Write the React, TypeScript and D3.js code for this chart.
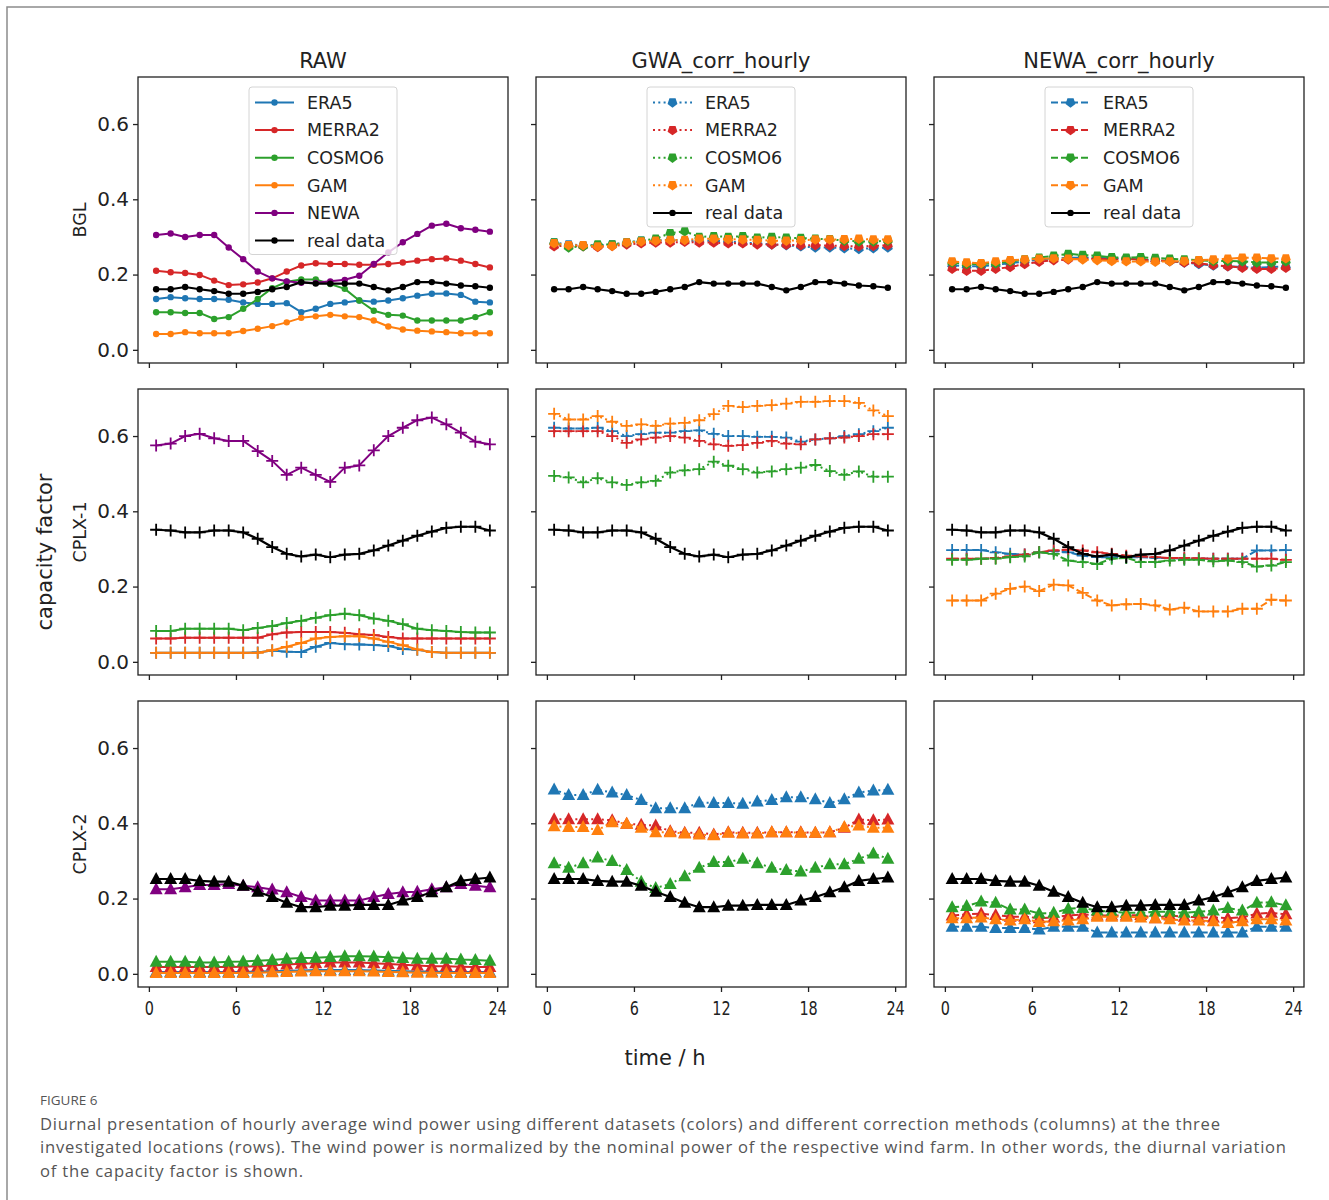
import React, { useEffect, useRef } from 'react';
import * as d3 from 'd3';

// hour of day (centre of each hourly bin)
const hours = [0.5, 1.5, 2.5, 3.5, 4.5, 5.5, 6.5, 7.5, 8.5, 9.5, 10.5, 11.5, 12.5, 13.5, 14.5, 15.5, 16.5, 17.5, 18.5, 19.5, 20.5, 21.5, 22.5, 23.5];

const seriesNames = ['ERA5', 'MERRA2', 'COSMO6', 'GAM', 'NEWA', 'real data'];
const seriesColors = ['#1f77b4', '#d62728', '#2ca02c', '#ff7f0e', '#800080', '#000000'];
const columnTitles = ['RAW', 'GWA_corr_hourly', 'NEWA_corr_hourly'];
const rowLabels = ['BGL', 'CPLX-1', 'CPLX-2'];
const yTicks = [0, 0.2, 0.4, 0.6];
const xTicks = [0, 6, 12, 18, 24];

// BGL
const bglReal = [0.161, 0.161, 0.167, 0.161, 0.156, 0.149, 0.149, 0.154, 0.161, 0.167, 0.180, 0.176, 0.176, 0.176, 0.176, 0.167, 0.158, 0.167, 0.180, 0.180, 0.176, 0.171, 0.169, 0.165];
const bglRawEra5 = [0.135, 0.140, 0.137, 0.135, 0.135, 0.133, 0.126, 0.122, 0.122, 0.124, 0.100, 0.109, 0.122, 0.126, 0.131, 0.128, 0.131, 0.137, 0.144, 0.149, 0.150, 0.146, 0.128, 0.126];
const bglRawMerra2 = [0.210, 0.206, 0.204, 0.199, 0.184, 0.172, 0.174, 0.179, 0.190, 0.208, 0.224, 0.230, 0.228, 0.228, 0.226, 0.226, 0.228, 0.232, 0.237, 0.241, 0.243, 0.237, 0.228, 0.219];
const bglRawCosmo6 = [0.100, 0.100, 0.098, 0.098, 0.082, 0.087, 0.109, 0.135, 0.164, 0.181, 0.187, 0.187, 0.175, 0.162, 0.131, 0.104, 0.093, 0.091, 0.078, 0.078, 0.078, 0.078, 0.087, 0.100];
const bglRawGam = [0.042, 0.042, 0.047, 0.044, 0.044, 0.044, 0.050, 0.056, 0.063, 0.073, 0.085, 0.089, 0.093, 0.089, 0.087, 0.078, 0.062, 0.054, 0.051, 0.049, 0.047, 0.044, 0.044, 0.044];
const bglRawNewa = [0.305, 0.309, 0.300, 0.305, 0.305, 0.272, 0.241, 0.208, 0.190, 0.182, 0.178, 0.178, 0.182, 0.186, 0.197, 0.228, 0.259, 0.286, 0.308, 0.330, 0.335, 0.323, 0.319, 0.314];
const bglGwaEra5 = [0.285, 0.280, 0.278, 0.278, 0.280, 0.285, 0.290, 0.290, 0.293, 0.290, 0.290, 0.290, 0.288, 0.285, 0.283, 0.280, 0.278, 0.275, 0.272, 0.272, 0.270, 0.268, 0.270, 0.272];
const bglGwaMerra2 = [0.275, 0.277, 0.275, 0.273, 0.276, 0.280, 0.283, 0.285, 0.285, 0.287, 0.285, 0.285, 0.283, 0.283, 0.280, 0.280, 0.279, 0.278, 0.278, 0.277, 0.276, 0.275, 0.276, 0.278];
const bglGwaCosmo6 = [0.285, 0.272, 0.275, 0.280, 0.280, 0.285, 0.290, 0.295, 0.310, 0.315, 0.300, 0.302, 0.300, 0.302, 0.298, 0.300, 0.298, 0.297, 0.295, 0.294, 0.290, 0.288, 0.288, 0.290];
const bglGwaGam = [0.283, 0.278, 0.278, 0.275, 0.276, 0.285, 0.288, 0.290, 0.292, 0.292, 0.295, 0.295, 0.294, 0.293, 0.292, 0.290, 0.290, 0.291, 0.293, 0.293, 0.294, 0.295, 0.293, 0.293];
const bglNewaEra5 = [0.225, 0.222, 0.222, 0.226, 0.230, 0.235, 0.240, 0.243, 0.245, 0.245, 0.244, 0.243, 0.242, 0.240, 0.238, 0.235, 0.232, 0.228, 0.224, 0.222, 0.220, 0.218, 0.220, 0.222];
const bglNewaMerra2 = [0.215, 0.210, 0.210, 0.215, 0.220, 0.228, 0.234, 0.238, 0.240, 0.242, 0.242, 0.240, 0.242, 0.240, 0.238, 0.236, 0.232, 0.230, 0.225, 0.222, 0.218, 0.215, 0.215, 0.218];
const bglNewaCosmo6 = [0.232, 0.228, 0.228, 0.230, 0.235, 0.240, 0.245, 0.250, 0.255, 0.252, 0.250, 0.246, 0.245, 0.246, 0.244, 0.242, 0.240, 0.238, 0.236, 0.236, 0.235, 0.232, 0.232, 0.235];
const bglNewaGam = [0.235, 0.232, 0.230, 0.235, 0.238, 0.240, 0.242, 0.243, 0.242, 0.240, 0.238, 0.236, 0.235, 0.235, 0.234, 0.235, 0.236, 0.238, 0.240, 0.242, 0.245, 0.245, 0.243, 0.243];

// CPLX-1
const c1Real = [0.351, 0.349, 0.344, 0.344, 0.349, 0.349, 0.344, 0.327, 0.305, 0.287, 0.280, 0.285, 0.278, 0.285, 0.287, 0.296, 0.309, 0.322, 0.335, 0.346, 0.356, 0.359, 0.359, 0.349];
const c1RawEra5 = [0.024, 0.024, 0.024, 0.024, 0.024, 0.024, 0.024, 0.025, 0.030, 0.027, 0.026, 0.040, 0.050, 0.047, 0.046, 0.045, 0.042, 0.034, 0.032, 0.026, 0.024, 0.024, 0.024, 0.024];
const c1RawMerra2 = [0.062, 0.062, 0.064, 0.064, 0.064, 0.064, 0.064, 0.064, 0.073, 0.078, 0.079, 0.079, 0.079, 0.077, 0.073, 0.071, 0.066, 0.062, 0.062, 0.062, 0.062, 0.062, 0.062, 0.062];
const c1RawCosmo6 = [0.082, 0.082, 0.088, 0.088, 0.088, 0.088, 0.084, 0.090, 0.095, 0.103, 0.109, 0.117, 0.124, 0.128, 0.124, 0.115, 0.109, 0.100, 0.088, 0.084, 0.082, 0.079, 0.078, 0.078];
const c1RawGam = [0.024, 0.024, 0.024, 0.024, 0.024, 0.024, 0.024, 0.024, 0.031, 0.040, 0.050, 0.062, 0.066, 0.068, 0.068, 0.062, 0.053, 0.044, 0.033, 0.026, 0.024, 0.024, 0.024, 0.024];
const c1RawNewa = [0.575, 0.580, 0.600, 0.606, 0.594, 0.587, 0.587, 0.560, 0.534, 0.497, 0.516, 0.497, 0.478, 0.516, 0.522, 0.562, 0.600, 0.622, 0.642, 0.649, 0.631, 0.609, 0.585, 0.578];
const c1GwaEra5 = [0.622, 0.620, 0.620, 0.622, 0.613, 0.600, 0.605, 0.609, 0.609, 0.613, 0.615, 0.606, 0.600, 0.600, 0.598, 0.598, 0.596, 0.585, 0.591, 0.594, 0.600, 0.605, 0.613, 0.622];
const c1GwaMerra2 = [0.613, 0.613, 0.613, 0.613, 0.600, 0.582, 0.591, 0.596, 0.600, 0.596, 0.587, 0.578, 0.574, 0.576, 0.582, 0.587, 0.580, 0.578, 0.591, 0.594, 0.596, 0.600, 0.605, 0.605];
const c1GwaCosmo6 = [0.494, 0.490, 0.477, 0.488, 0.477, 0.470, 0.477, 0.481, 0.503, 0.509, 0.512, 0.532, 0.521, 0.512, 0.503, 0.506, 0.512, 0.516, 0.523, 0.507, 0.497, 0.506, 0.492, 0.492];
const c1GwaGam = [0.659, 0.644, 0.644, 0.653, 0.638, 0.627, 0.631, 0.627, 0.633, 0.635, 0.642, 0.658, 0.680, 0.677, 0.680, 0.682, 0.686, 0.691, 0.691, 0.693, 0.693, 0.688, 0.668, 0.653];
const c1NewaEra5 = [0.297, 0.297, 0.297, 0.291, 0.287, 0.285, 0.291, 0.294, 0.291, 0.282, 0.278, 0.278, 0.278, 0.278, 0.276, 0.276, 0.274, 0.274, 0.274, 0.274, 0.274, 0.296, 0.296, 0.297];
const c1NewaMerra2 = [0.274, 0.274, 0.274, 0.276, 0.280, 0.285, 0.291, 0.296, 0.298, 0.296, 0.291, 0.287, 0.282, 0.280, 0.278, 0.276, 0.276, 0.275, 0.274, 0.274, 0.274, 0.274, 0.274, 0.271];
const c1NewaCosmo6 = [0.271, 0.271, 0.274, 0.274, 0.278, 0.280, 0.291, 0.287, 0.269, 0.265, 0.260, 0.274, 0.276, 0.265, 0.265, 0.269, 0.271, 0.271, 0.267, 0.269, 0.265, 0.253, 0.256, 0.265];
const c1NewaGam = [0.163, 0.163, 0.163, 0.181, 0.194, 0.200, 0.188, 0.205, 0.203, 0.183, 0.163, 0.150, 0.153, 0.154, 0.150, 0.139, 0.144, 0.134, 0.134, 0.134, 0.141, 0.141, 0.165, 0.163];

// CPLX-2
const c2Real = [0.252, 0.252, 0.252, 0.247, 0.245, 0.245, 0.234, 0.218, 0.204, 0.189, 0.177, 0.177, 0.181, 0.181, 0.183, 0.183, 0.183, 0.195, 0.204, 0.217, 0.230, 0.247, 0.252, 0.256];
const c2RawEra5 = [0.005, 0.005, 0.005, 0.005, 0.005, 0.005, 0.005, 0.006, 0.007, 0.008, 0.009, 0.010, 0.010, 0.010, 0.010, 0.009, 0.008, 0.007, 0.006, 0.006, 0.005, 0.005, 0.005, 0.005];
const c2RawMerra2 = [0.018, 0.018, 0.018, 0.018, 0.018, 0.018, 0.019, 0.020, 0.022, 0.025, 0.027, 0.028, 0.030, 0.030, 0.030, 0.028, 0.026, 0.024, 0.022, 0.020, 0.020, 0.019, 0.018, 0.018];
const c2RawCosmo6 = [0.032, 0.032, 0.032, 0.030, 0.030, 0.032, 0.033, 0.035, 0.037, 0.040, 0.042, 0.043, 0.045, 0.047, 0.047, 0.046, 0.044, 0.042, 0.040, 0.040, 0.040, 0.038, 0.037, 0.035];
const c2RawGam = [0.002, 0.002, 0.002, 0.002, 0.002, 0.002, 0.002, 0.003, 0.004, 0.005, 0.006, 0.007, 0.007, 0.007, 0.007, 0.006, 0.005, 0.004, 0.003, 0.003, 0.002, 0.002, 0.002, 0.002];
const c2RawNewa = [0.225, 0.225, 0.230, 0.236, 0.236, 0.239, 0.234, 0.230, 0.224, 0.217, 0.204, 0.195, 0.195, 0.195, 0.195, 0.204, 0.212, 0.217, 0.218, 0.225, 0.230, 0.239, 0.234, 0.230];
const c2GwaEra5 = [0.490, 0.475, 0.475, 0.489, 0.482, 0.475, 0.462, 0.440, 0.440, 0.440, 0.455, 0.454, 0.454, 0.452, 0.458, 0.462, 0.469, 0.469, 0.464, 0.454, 0.464, 0.482, 0.487, 0.489];
const c2GwaMerra2 = [0.411, 0.411, 0.411, 0.411, 0.408, 0.399, 0.396, 0.394, 0.379, 0.375, 0.375, 0.370, 0.376, 0.375, 0.375, 0.376, 0.376, 0.376, 0.375, 0.376, 0.388, 0.410, 0.408, 0.410];
const c2GwaCosmo6 = [0.294, 0.282, 0.294, 0.309, 0.300, 0.276, 0.245, 0.228, 0.239, 0.259, 0.282, 0.297, 0.297, 0.306, 0.294, 0.282, 0.276, 0.272, 0.282, 0.291, 0.291, 0.306, 0.320, 0.306];
const c2GwaGam = [0.392, 0.390, 0.390, 0.382, 0.403, 0.399, 0.388, 0.376, 0.376, 0.373, 0.370, 0.368, 0.375, 0.373, 0.373, 0.376, 0.376, 0.375, 0.375, 0.376, 0.390, 0.394, 0.388, 0.388];
const c2NewaEra5 = [0.125, 0.125, 0.125, 0.122, 0.122, 0.122, 0.118, 0.125, 0.125, 0.125, 0.110, 0.110, 0.110, 0.110, 0.110, 0.110, 0.110, 0.110, 0.110, 0.110, 0.110, 0.125, 0.125, 0.125];
const c2NewaMerra2 = [0.155, 0.158, 0.160, 0.156, 0.152, 0.152, 0.148, 0.150, 0.155, 0.158, 0.155, 0.155, 0.155, 0.156, 0.148, 0.155, 0.152, 0.150, 0.150, 0.148, 0.150, 0.160, 0.162, 0.158];
const c2NewaCosmo6 = [0.177, 0.180, 0.192, 0.189, 0.171, 0.171, 0.160, 0.162, 0.173, 0.175, 0.168, 0.165, 0.162, 0.162, 0.165, 0.165, 0.162, 0.165, 0.168, 0.175, 0.168, 0.189, 0.190, 0.182];
const c2NewaGam = [0.148, 0.148, 0.150, 0.145, 0.142, 0.145, 0.138, 0.140, 0.142, 0.145, 0.152, 0.152, 0.152, 0.150, 0.148, 0.145, 0.142, 0.142, 0.140, 0.135, 0.140, 0.145, 0.145, 0.142];

const captionLines = [
  'Diurnal presentation of hourly average wind power using different datasets (colors) and different correction methods (columns) at the three',
  'investigated locations (rows). The wind power is normalized by the nominal power of the respective wind farm. In other words, the diurnal variation',
  'of the capacity factor is shown.',
];

// series index into seriesNames / seriesColors, values
const grid = [
  [
    [[0, bglRawEra5], [1, bglRawMerra2], [2, bglRawCosmo6], [3, bglRawGam], [4, bglRawNewa], [5, bglReal]],
    [[0, bglGwaEra5], [1, bglGwaMerra2], [2, bglGwaCosmo6], [3, bglGwaGam], [5, bglReal]],
    [[0, bglNewaEra5], [1, bglNewaMerra2], [2, bglNewaCosmo6], [3, bglNewaGam], [5, bglReal]],
  ],
  [
    [[0, c1RawEra5], [1, c1RawMerra2], [2, c1RawCosmo6], [3, c1RawGam], [4, c1RawNewa], [5, c1Real]],
    [[0, c1GwaEra5], [1, c1GwaMerra2], [2, c1GwaCosmo6], [3, c1GwaGam], [5, c1Real]],
    [[0, c1NewaEra5], [1, c1NewaMerra2], [2, c1NewaCosmo6], [3, c1NewaGam], [5, c1Real]],
  ],
  [
    [[0, c2RawEra5], [1, c2RawMerra2], [2, c2RawCosmo6], [3, c2RawGam], [4, c2RawNewa], [5, c2Real]],
    [[0, c2GwaEra5], [1, c2GwaMerra2], [2, c2GwaCosmo6], [3, c2GwaGam], [5, c2Real]],
    [[0, c2NewaEra5], [1, c2NewaMerra2], [2, c2NewaCosmo6], [3, c2NewaGam], [5, c2Real]],
  ],
] as [number, number[]][][][];

const FONT = 'DejaVu Sans, sans-serif';

// marker for a row ('dot' row 1, '+' row 2, '^' row 3)
function drawMarker(g: any, row: number, col: number, isReal: boolean, x: number, y: number, color: string) {
  if (row === 0) {
    if (col === 0 || isReal) {
      g.append('circle').attr('cx', x).attr('cy', y).attr('r', 3.2).attr('fill', color);
    } else {
      const r = 5.2;
      const pts = d3.range(5).map((k) => {
        const a = Math.PI / 2 + (k * 2 * Math.PI) / 5;
        return [x + r * Math.cos(a), y + r * Math.sin(a)];
      });
      g.append('path').attr('d', 'M' + pts.join('L') + 'Z').attr('fill', color);
    }
  } else if (row === 1) {
    const s = 6;
    g.append('path')
      .attr('d', `M${x - s},${y}L${x + s},${y}M${x},${y - s}L${x},${y + s}`)
      .attr('stroke', color)
      .attr('stroke-width', 1.8);
  } else {
    g.append('path')
      .attr('d', `M${x},${y - 7}L${x + 6.5},${y + 5}L${x - 6.5},${y + 5}Z`)
      .attr('fill', color);
  }
}

const dashFor = (col: number, isReal: boolean) => {
  if (isReal || col === 0) return null;
  return col === 1 ? '2,3.3' : '7,3';
};

function App() {
  const svgRef = useRef(null);

  useEffect(() => {
    const svg = d3.select(svgRef.current);
    svg.selectAll('*').remove();

    const panelLeft = [138, 536, 934];
    const panelTop = [77, 389, 701];
    const panelW = 370;
    const panelH = 286;

    // outer frame of the figure
    svg.append('rect')
      .attr('x', 7).attr('y', 7).attr('width', 1400).attr('height', 1300)
      .attr('fill', 'none').attr('stroke', '#8c8c8c').attr('stroke-width', 1.5);

    const xScale = d3.scaleLinear().domain([-0.75, 24.75]).range([0, panelW]);
    const yScale = d3.scaleLinear().domain([-0.035, 0.725]).range([panelH, 0]);

    const line = d3.line<number>()
      .x((_, i) => xScale(hours[i]))
      .y((d) => yScale(d));

    grid.forEach((rowPanels, r) => {
      rowPanels.forEach((series, c) => {
        const g = svg.append('g').attr('transform', `translate(${panelLeft[c]},${panelTop[r]})`);

        // y axis
        const yAxis = d3.axisLeft(yScale).tickValues(yTicks).tickSize(5).tickPadding(4)
          .tickFormat(c === 0 ? d3.format('.1f') : () => '');
        const ya = g.append('g').call(yAxis);
        ya.select('.domain').remove();
        ya.selectAll('line').attr('stroke', '#222').attr('stroke-width', 1.3);
        ya.selectAll('text').attr('font-family', FONT).attr('font-size', 20).attr('fill', '#222');

        // x axis
        const xAxis = d3.axisBottom(xScale).tickValues(xTicks).tickSize(5).tickPadding(9)
          .tickFormat(r === 2 ? d3.format('d') : () => '');
        const xa = g.append('g').attr('transform', `translate(0,${panelH})`).call(xAxis);
        xa.select('.domain').remove();
        xa.selectAll('line').attr('stroke', '#222').attr('stroke-width', 1.3);
        xa.selectAll('text').attr('font-family', FONT).attr('font-size', 20).attr('fill', '#222')
          .attr('transform', 'scale(0.72,1)');

        // series
        series.forEach(([k, values]) => {
          const isReal = k === 5;
          const color = seriesColors[k];
          const path = g.append('path')
            .datum(values)
            .attr('d', line)
            .attr('fill', 'none')
            .attr('stroke', color)
            .attr('stroke-width', isReal ? 2.2 : 2)
            .attr('stroke-linejoin', 'round');
          const dash = dashFor(c, isReal);
          if (dash) path.attr('stroke-dasharray', dash);
          const mg = g.append('g');
          values.forEach((v, i) => drawMarker(mg, r, c, isReal, xScale(hours[i]), yScale(v), color));
        });

        // frame
        g.append('rect').attr('width', panelW).attr('height', panelH)
          .attr('fill', 'none').attr('stroke', '#222').attr('stroke-width', 1.3);

        // legend on the top row
        if (r === 0) {
          const n = series.length;
          const boxW = 148;
          const rowH = 27.6;
          const boxH = 15.5 + (n - 1) * rowH + 14;
          const lg = g.append('g').attr('transform', `translate(${panelW / 2 - boxW / 2},10)`);
          lg.append('rect').attr('width', boxW).attr('height', boxH).attr('rx', 3)
            .attr('fill', 'white').attr('fill-opacity', 0.8)
            .attr('stroke', '#d4d4d4').attr('stroke-width', 1);
          series.forEach(([k], j) => {
            const isReal = k === 5;
            const cy = 15.5 + j * rowH;
            const hl = lg.append('line').attr('x1', 6).attr('x2', 45).attr('y1', cy).attr('y2', cy)
              .attr('stroke', seriesColors[k]).attr('stroke-width', 2);
            const dash = dashFor(c, isReal);
            if (dash) hl.attr('stroke-dasharray', dash);
            drawMarker(lg, 0, c, isReal, 25.5, cy, seriesColors[k]);
            lg.append('text').attr('x', 58).attr('y', cy).attr('dy', '0.36em')
              .attr('font-family', FONT).attr('font-size', 17.5).attr('fill', '#222')
              .text(seriesNames[k]);
          });
        }

        if (r === 0) {
          svg.append('text')
            .attr('x', panelLeft[c] + panelW / 2).attr('y', 68)
            .attr('text-anchor', 'middle').attr('font-family', FONT).attr('font-size', 21).attr('fill', '#222')
            .text(columnTitles[c]);
        }
        if (c === 0) {
          svg.append('text')
            .attr('transform', `translate(86,${panelTop[r] + panelH / 2}) rotate(-90)`)
            .attr('text-anchor', 'middle').attr('font-family', FONT).attr('font-size', 17.5).attr('fill', '#222')
            .text(rowLabels[r]);
        }
      });
    });

    svg.append('text')
      .attr('transform', 'translate(52,552) rotate(-90)')
      .attr('text-anchor', 'middle').attr('font-family', FONT).attr('font-size', 21).attr('fill', '#222')
      .text('capacity factor');

    svg.append('text')
      .attr('x', 665).attr('y', 1065)
      .attr('text-anchor', 'middle').attr('font-family', FONT).attr('font-size', 21).attr('fill', '#222')
      .text('time / h');

    svg.append('text')
      .attr('x', 40).attr('y', 1105)
      .attr('font-family', 'Open Sans, sans-serif').attr('font-size', 13.5).attr('fill', '#555')
      .text('FIGURE 6');

    const lineEnds = [1220, 1286, 303];
    captionLines.forEach((t, i) => {
      svg.append('text')
        .attr('x', 40).attr('y', 1130 + i * 23.3)
        .attr('font-family', 'Open Sans, sans-serif').attr('font-size', 16.6).attr('fill', '#555')
        .attr('textLength', lineEnds[i] - 40).attr('lengthAdjust', 'spacing')
        .text(t);
    });

    return () => { svg.selectAll('*').remove(); };
  }, []);

  return (
    <svg ref={svgRef} width={1329} height={1200} style={{ position: 'absolute', left: 0, top: 0, background: 'white' }} />
  );
}

export default App;
